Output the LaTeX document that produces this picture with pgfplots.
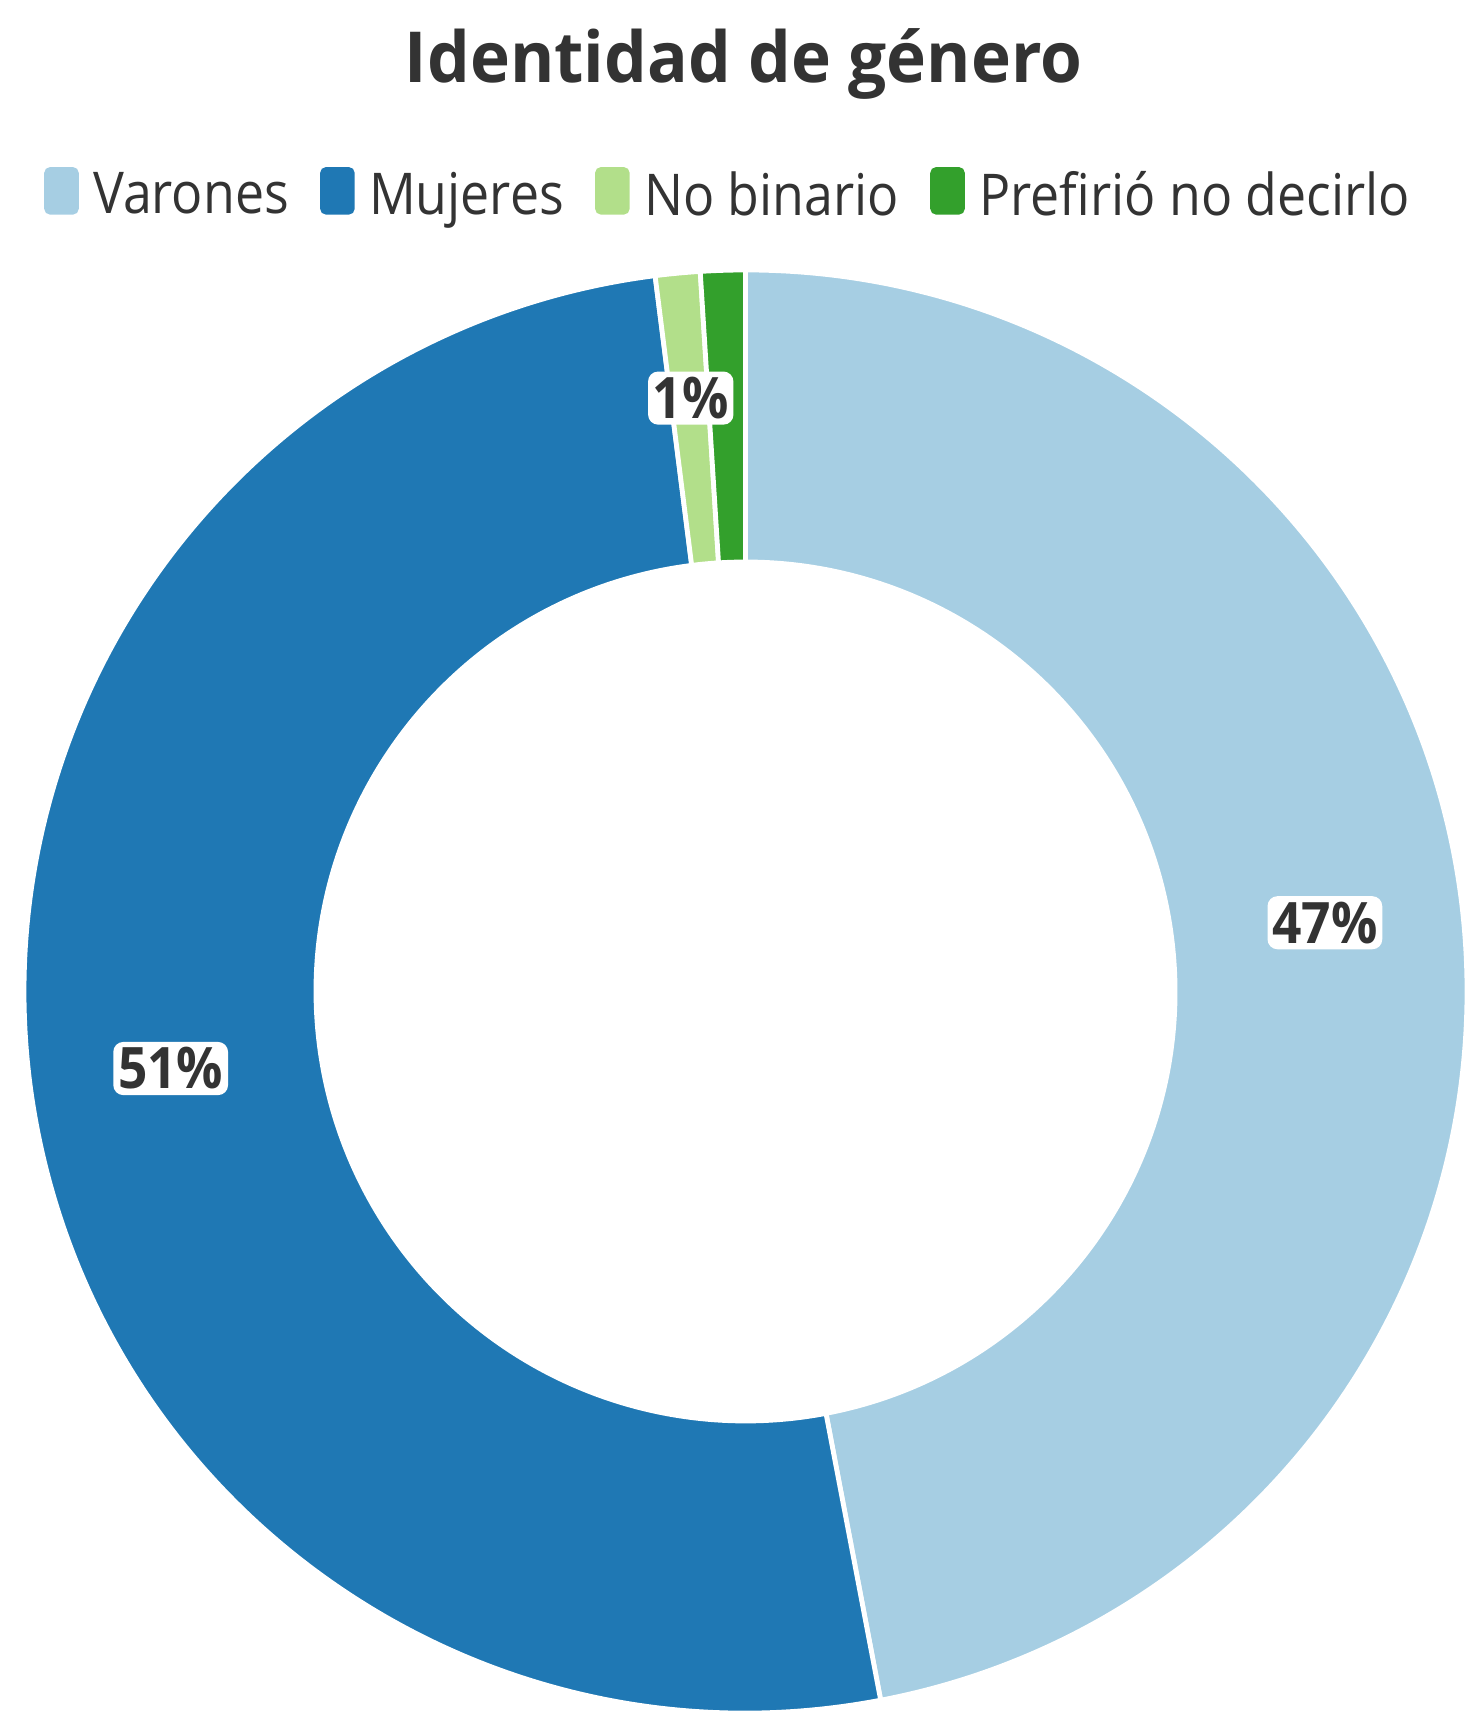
\documentclass[border=0pt]{standalone}
\usepackage{fontspec}
\setmainfont{Open Sans}[FakeStretch=0.9]
\newfontfamily\titlefont{Open Sans}[FakeStretch=0.96]
\usepackage{pgfplots}
\usepackage{pgfplotstable}
\pgfplotsset{compat=1.18}
\definecolor{cVar}{HTML}{A6CEE3}
\definecolor{cMuj}{HTML}{1F78B4}
\definecolor{cNB}{HTML}{B2DF8A}
\definecolor{cPref}{HTML}{33A02C}
\definecolor{txt}{HTML}{333333}

\pgfplotstableread{
label value col show
Varones 47.0 cVar 1
Mujeres 51.0 cMuj 1
NoBinario 1.0 cNB 1
Prefirio 1.0 cPref 0
}\gentable

\def\cx{186.375}
\def\cy{179.875}
\def\Rout{180.375}
\def\Rin{107.375}
\def\Rmid{145.5}

\begin{document}
\begin{tikzpicture}
\begin{axis}[
  scale only axis, width=368.5pt, height=427.75pt,
  xmin=0, xmax=368.5, ymin=0, ymax=427.75,
  hide axis, clip=false,
  legend columns=-1,
  legend style={draw=none, fill=none, at={(axis cs:181.8,379.2)}, anchor=center,
    font=\fontsize{14.4}{16}\selectfont, text=txt,
    nodes={inner sep=0pt},
    /tikz/every odd column/.append style={column sep=3.6pt},
    /tikz/every even column/.append style={column sep=7.8pt}},
  legend image code/.code={\fill[#1, rounded corners=1.3pt] (0pt,-4.4pt) rectangle (8.25pt,7.1pt);},
]
\addlegendimage{cVar}\addlegendentry{Varones}
\addlegendimage{cMuj}\addlegendentry{Mujeres}
\addlegendimage{cNB}\addlegendentry{No binario}
\addlegendimage{cPref}\addlegendentry{Prefirió no decirlo}

\pgfplotsextra{
  \gdef\cum{0}
  \foreach \i in {0,...,3}{
    \pgfplotstablegetelem{\i}{value}\of\gentable \let\v\pgfplotsretval
    \pgfplotstablegetelem{\i}{col}\of\gentable \let\c\pgfplotsretval
    \pgfmathsetmacro\a{90-3.6*\cum}
    \pgfmathsetmacro\b{90-3.6*(\cum+\v)}
    \filldraw[fill=\c, draw=white, line width=1.2pt]
      (axis cs:{\cx+\Rout*cos(\a)},{\cy+\Rout*sin(\a)})
      arc[start angle=\a, end angle=\b, radius=\Rout pt]
      -- (axis cs:{\cx+\Rin*cos(\b)},{\cy+\Rin*sin(\b)})
      arc[start angle=\b, end angle=\a, radius=\Rin pt] -- cycle;
    \pgfmathsetmacro\nc{\cum+\v}
    \xdef\cum{\nc}
  }
  \gdef\cum{0}
  \foreach \i in {0,...,3}{
    \pgfplotstablegetelem{\i}{value}\of\gentable \let\v\pgfplotsretval
    \pgfplotstablegetelem{\i}{show}\of\gentable \let\s\pgfplotsretval
    \pgfmathsetmacro\m{90-3.6*(\cum+\v/2)}
    \pgfmathtruncatemacro\pct{round(\v)}
    \ifnum\s=1
      \node[font=\fontsize{14.3}{15}\selectfont\bfseries, text=txt, fill=white,
            rounded corners=2.5pt, inner xsep=1.2pt, inner ysep=1.4pt, yshift=3.5pt]
        at (axis cs:{\cx+\Rmid*cos(\m)},{\cy+\Rmid*sin(\m)}) {\pct\%};
    \fi
    \pgfmathsetmacro\nc{\cum+\v}
    \xdef\cum{\nc}
  }
}
\node[anchor=base, font=\titlefont\fontsize{17.6}{20}\selectfont\bfseries, text=txt, inner sep=0pt]
  at (axis cs:185.9,407) {Identidad de género};
\end{axis}
\pgfresetboundingbox
\path (0,0) rectangle (368.5pt,427.75pt);
\end{tikzpicture}
\end{document}
